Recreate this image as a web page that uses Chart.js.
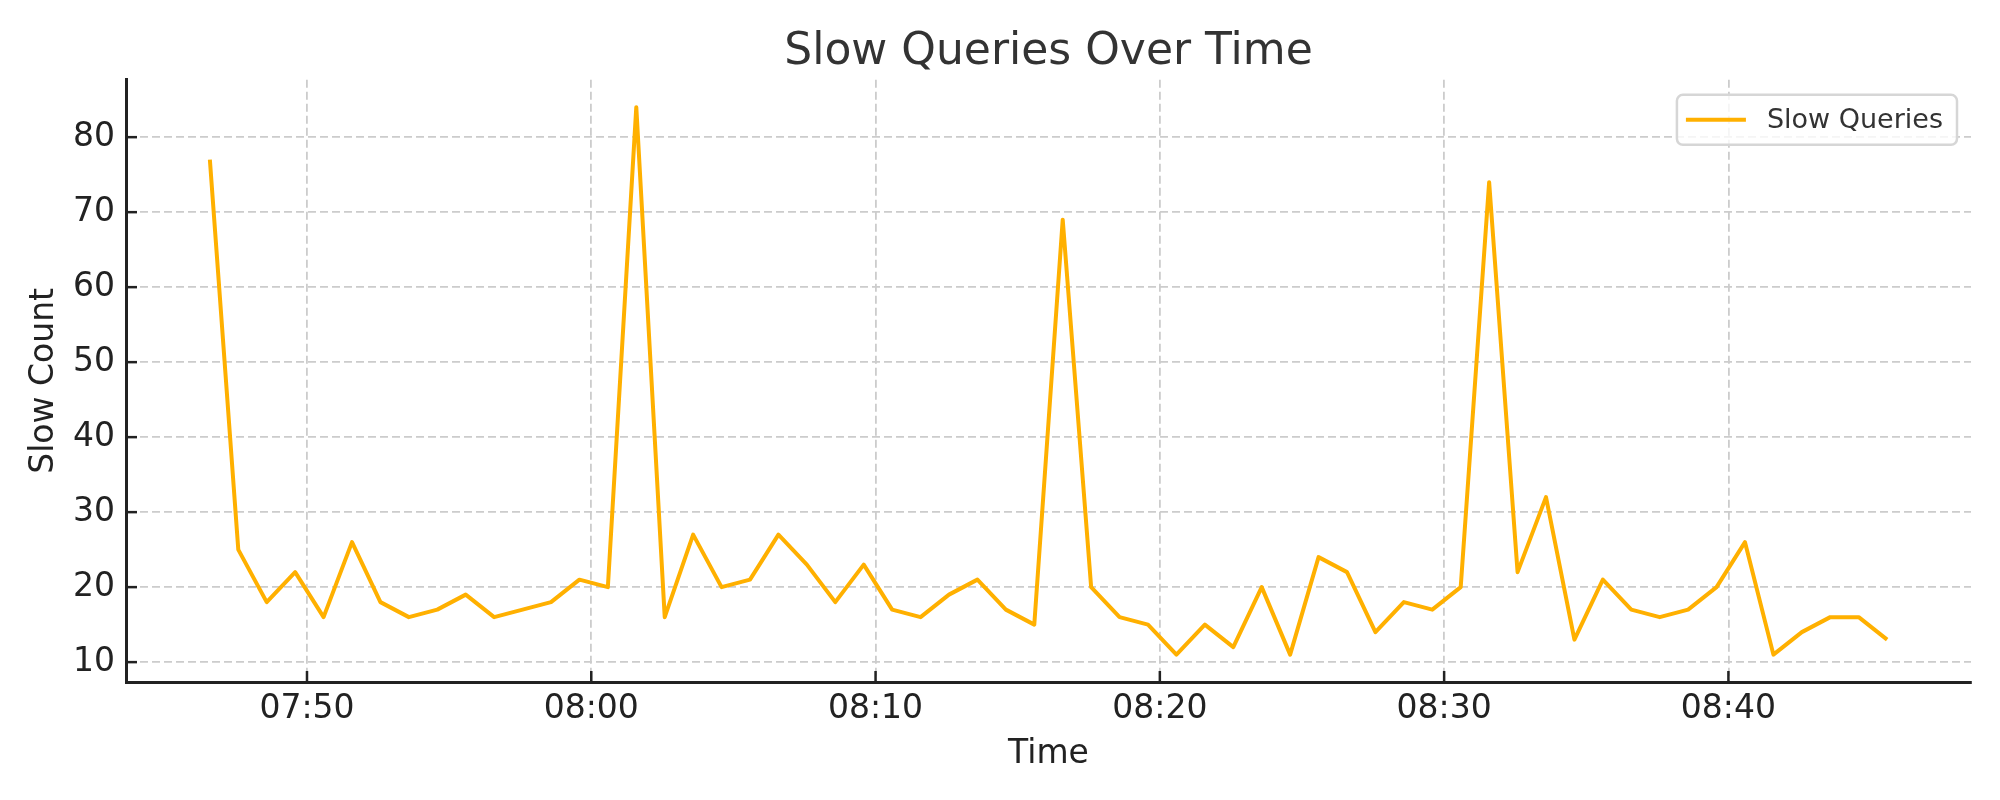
<!DOCTYPE html>
<html>
<head>
<meta charset="utf-8">
<script src="https://cdn.jsdelivr.net/npm/chart.js@4.4.1/dist/chart.umd.min.js"></script>
<style>
  html, body { margin: 0; padding: 0; background: #ffffff; }
  #wrap { width: 2000px; height: 800px; position: relative; }
</style>
</head>
<body>
<div id="wrap"><canvas id="c" width="2000" height="800"></canvas></div>
<script>
const chartTitle = "Slow Queries Over Time";
const seriesLabel = "Slow Queries";
const xAxisLabel = "Time";
const yAxisLabel = "Slow Count";

const times = [
  "07:46:35","07:47:35","07:48:35","07:49:35","07:50:35","07:51:35","07:52:35","07:53:35","07:54:35","07:55:35",
  "07:56:35","07:57:35","07:58:35","07:59:35","08:00:35","08:01:35","08:02:35","08:03:35","08:04:35","08:05:35",
  "08:06:35","08:07:35","08:08:35","08:09:35","08:10:35","08:11:35","08:12:35","08:13:35","08:14:35","08:15:35",
  "08:16:35","08:17:35","08:18:35","08:19:35","08:20:35","08:21:35","08:22:35","08:23:35","08:24:35","08:25:35",
  "08:26:35","08:27:35","08:28:35","08:29:35","08:30:35","08:31:35","08:32:35","08:33:35","08:34:35","08:35:35",
  "08:36:35","08:37:35","08:38:35","08:39:35","08:40:35","08:41:35","08:42:35","08:43:35","08:44:35","08:45:35"
];

const slowCounts = [
  77, 25, 18, 22, 16, 26, 18, 16, 17, 19,
  16, 17, 18, 21, 20, 84, 16, 27, 20, 21,
  27, 23, 18, 23, 17, 16, 19, 21, 17, 15,
  69, 20, 16, 15, 11, 15, 12, 20, 11, 24,
  22, 14, 18, 17, 20, 74, 22, 32, 13, 21,
  17, 16, 17, 20, 26, 11, 14, 16, 16, 13
];

const xTickLabels = ["07:50", "08:00", "08:10", "08:20", "08:30", "08:40"];
const yTickValues = [10, 20, 30, 40, 50, 60, 70, 80];

function toMinutes(s) {
  const p = s.split(":").map(Number);
  return p[0] * 60 + p[1] + (p[2] || 0) / 60;
}
function fmt(m) {
  const h = Math.floor(m / 60), mm = Math.round(m - h * 60);
  return String(h).padStart(2, "0") + ":" + String(mm).padStart(2, "0");
}

const points = times.map((t, i) => ({ x: toMinutes(t), y: slowCounts[i] }));
const xs = points.map(p => p.x), ys = slowCounts;
const xLo = Math.min(...xs), xHi = Math.max(...xs);
const yLo = Math.min(...ys), yHi = Math.max(...ys);
const xMargin = (xHi - xLo) * 0.05, yMargin = (yHi - yLo) * 0.05;
const xTickValues = xTickLabels.map(toMinutes);

const FONT = "'DejaVu Sans', 'Liberation Sans', sans-serif";
const LINE_COLOR = "#FFB000";

const innerTicks = {
  id: "innerTicks",
  afterDraw(chart) {
    const { ctx, chartArea, scales } = chart;
    ctx.save();
    ctx.setLineDash([]);
    ctx.strokeStyle = "#222222";
    ctx.lineWidth = 2.5;
    xTickValues.forEach(v => {
      const px = scales.x.getPixelForValue(v);
      ctx.beginPath();
      ctx.moveTo(px, chartArea.bottom);
      ctx.lineTo(px, chartArea.bottom - 11);
      ctx.stroke();
    });
    yTickValues.forEach(v => {
      const py = scales.y.getPixelForValue(v);
      ctx.beginPath();
      ctx.moveTo(chartArea.left, py);
      ctx.lineTo(chartArea.left + 11, py);
      ctx.stroke();
    });
    ctx.restore();
  }
};

const boxLegend = {
  id: "boxLegend",
  afterDraw(chart) {
    const { ctx, chartArea } = chart;
    const ds = chart.data.datasets[0];
    ctx.save();
    ctx.setLineDash([]);
    ctx.font = "27px " + FONT;
    const tw = ctx.measureText(ds.label).width;
    const right = chartArea.right - 14;
    const top = chartArea.top + 15;
    const h = 50;
    const w = 9 + 60 + 21 + tw + 14;
    const left = right - w;
    const r = 6;
    ctx.beginPath();
    ctx.moveTo(left + r, top);
    ctx.lineTo(right - r, top);
    ctx.arcTo(right, top, right, top + r, r);
    ctx.lineTo(right, top + h - r);
    ctx.arcTo(right, top + h, right - r, top + h, r);
    ctx.lineTo(left + r, top + h);
    ctx.arcTo(left, top + h, left, top + h - r, r);
    ctx.lineTo(left, top + r);
    ctx.arcTo(left, top, left + r, top, r);
    ctx.closePath();
    ctx.fillStyle = "rgba(255,255,255,0.8)";
    ctx.fill();
    ctx.strokeStyle = "#d6d6d6";
    ctx.lineWidth = 2.5;
    ctx.stroke();
    const cy = top + h / 2;
    ctx.strokeStyle = ds.borderColor;
    ctx.lineWidth = 4;
    ctx.beginPath();
    ctx.moveTo(left + 9, cy);
    ctx.lineTo(left + 69, cy);
    ctx.stroke();
    ctx.fillStyle = "#333333";
    ctx.textBaseline = "middle";
    ctx.textAlign = "left";
    ctx.fillText(ds.label, left + 90, cy + 1);
    ctx.restore();
  }
};

new Chart(document.getElementById("c"), {
  type: "line",
  data: {
    datasets: [{
      label: seriesLabel,
      data: points,
      borderColor: LINE_COLOR,
      backgroundColor: LINE_COLOR,
      borderWidth: 4,
      pointRadius: 0,
      tension: 0,
      fill: false,
      borderJoinStyle: "round",
      borderCapStyle: "butt"
    }]
  },
  options: {
    responsive: false,
    animation: false,
    devicePixelRatio: 1,
    layout: { padding: { left: 0, right: 29, top: 0, bottom: 0 } },
    plugins: {
      legend: { display: false },
      tooltip: { enabled: false },
      title: {
        display: true,
        text: chartTitle,
        fullSize: false,
        color: "#333333",
        font: { family: FONT, size: 44, weight: "normal", lineHeight: 1.2 },
        padding: { top: 26, bottom: 1 }
      }
    },
    scales: {
      x: {
        type: "linear",
        min: xLo - xMargin,
        max: xHi + xMargin,
        afterBuildTicks(scale) { scale.ticks = xTickValues.map(v => ({ value: v })); },
        afterFit(scale) { scale.height = 118; },
        ticks: {
          autoSkip: false,
          maxRotation: 0,
          padding: 8,
          color: "#222222",
          font: { family: FONT, size: 33 },
          callback: (v) => fmt(v)
        },
        grid: {
          display: true,
          drawTicks: false,
          color: "#cccccc",
          lineWidth: 1.8
        },
        border: { display: true, color: "#222222", width: 3, dash: [8, 4] },
        title: {
          display: true,
          text: xAxisLabel,
          color: "#222222",
          font: { family: FONT, size: 33 },
          padding: { top: 0, bottom: 26 }
        }
      },
      y: {
        type: "linear",
        min: yLo - yMargin,
        max: yHi + yMargin,
        afterBuildTicks(scale) { scale.ticks = yTickValues.map(v => ({ value: v })); },
        afterFit(scale) { scale.width = 126; },
        ticks: {
          autoSkip: false,
          padding: 11,
          color: "#222222",
          font: { family: FONT, size: 33 },
          callback: (v) => String(v)
        },
        grid: {
          display: true,
          drawTicks: false,
          color: "#cccccc",
          lineWidth: 1.8
        },
        border: { display: true, color: "#222222", width: 3, dash: [8, 4] },
        title: {
          display: true,
          text: yAxisLabel,
          color: "#222222",
          font: { family: FONT, size: 33 },
          padding: { top: 25, bottom: 0 }
        }
      }
    }
  },
  plugins: [innerTicks, boxLegend]
});
</script>
</body>
</html>
